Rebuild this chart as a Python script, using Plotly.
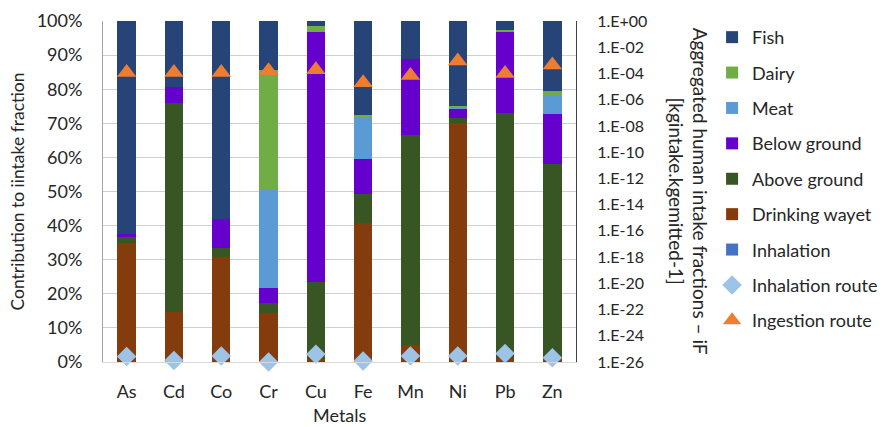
import plotly.graph_objects as go

metals = ["As", "Cd", "Co", "Cr", "Cu", "Fe", "Mn", "Ni", "Pb", "Zn"]

# contributions to intake fraction (%), stacked bottom -> top
inhalation = [0, 0, 0, 0, 0, 0, 0, 0, 0, 0]
drinking = [35.0, 14.7, 30.8, 14.3, 1.0, 40.9, 5.0, 70.0, 1.3, 1.0]
above_ground = [1.8, 61.2, 2.7, 3.1, 22.6, 8.3, 61.6, 1.5, 71.8, 57.2]
below_ground = [0.8, 4.7, 8.5, 4.4, 73.3, 10.2, 22.4, 2.9, 23.7, 14.4]
meat = [0, 0, 0, 28.6, 0, 12.1, 0, 0.3, 0, 5.5]
dairy = [0, 0, 0, 35.2, 1.5, 0.8, 0, 0.4, 0.6, 1.3]
fish = [62.4, 19.4, 58.0, 14.4, 1.6, 27.7, 11.0, 24.9, 2.6, 20.6]

# aggregated intake fractions (kg intake / kg emitted)
inhalation_route = [2.6e-26, 1.3e-26, 2.9e-26, 1.0e-26, 3.9e-26, 1.2e-26, 2.9e-26, 2.9e-26, 4.4e-26, 2.1e-26]
ingestion_route = [1.2e-4, 1.2e-4, 1.2e-4, 1.6e-4, 1.9e-4, 2.0e-5, 7.0e-5, 9.0e-4, 1.0e-4, 4.5e-4]

right_ticks = [10 ** (-k) for k in range(0, 27, 2)]
right_ticktext = ["1.E+00"] + ["1.E-%02d" % k for k in range(2, 27, 2)]
left_ticks = list(range(0, 101, 10))
left_ticktext = ["%d%%" % v for v in left_ticks]

FONT = "Lato, 'Open Sans', sans-serif"
TXT = "#262626"

fig = go.Figure()
bars = [
    ("Inhalation", inhalation, "#4472C4", 7),
    ("Drinking wayet", drinking, "#843C0C", 6),
    ("Above ground", above_ground, "#375623", 5),
    ("Below ground", below_ground, "#6600CC", 4),
    ("Meat", meat, "#5B9BD5", 3),
    ("Dairy", dairy, "#70AD47", 2),
    ("Fish", fish, "#264478", 1),
]
for name, vals, col, rank in bars:
    fig.add_trace(go.Bar(x=metals, y=vals, name=name, marker=dict(color=col, line=dict(width=0)),
                         legendrank=rank, legendgroup=name, yaxis="y"))

fig.add_trace(go.Scatter(x=metals, y=inhalation_route, name="Inhalation route", mode="markers",
                         marker=dict(symbol="diamond", size=15, color="#9DC3E6"),
                         yaxis="y2", legendrank=8, legendgroup="ir", cliponaxis=False))
fig.add_trace(go.Scatter(x=metals, y=ingestion_route, name="Ingestion route", mode="markers",
                         marker=dict(symbol="triangle-up", size=17, color="#ED7D31"),
                         yaxis="y2", legendrank=9, legendgroup="ig", cliponaxis=False))

fig.update_layout(
    width=894, height=427,
    margin=dict(l=103, r=317, t=21, b=65),
    paper_bgcolor="white", plot_bgcolor="white",
    barmode="stack", bargap=0.61,
    font=dict(family=FONT, size=18, color=TXT),
    xaxis=dict(type="category", range=[-0.5, 9.5], showline=True, linecolor="#d9d9d9", linewidth=1,
               ticks="", ticklabelstandoff=13, tickfont=dict(size=18, color=TXT),
               automargin=False),
    yaxis=dict(range=[0, 100], tickvals=left_ticks, ticktext=left_ticktext,
               showgrid=True, gridcolor="#d0d0d0", gridwidth=1,
               showline=True, linecolor="#a6a6a6", linewidth=1,
               ticks="", ticklabelstandoff=16, zeroline=False,
               tickfont=dict(size=18, color=TXT), automargin=False,
               title=dict(text="Contribution to iintake fraction", font=dict(size=17.5, color=TXT), standoff=7)),
    yaxis2=dict(type="log", range=[-26, 0], overlaying="y", side="right",
                tickvals=right_ticks, ticktext=right_ticktext,
                showgrid=False, showline=True, linecolor="#404040", linewidth=1,
                ticks="", ticklabelstandoff=17, zeroline=False, automargin=False,
                tickfont=dict(size=16, color=TXT)),
    legend=dict(x=1.285, y=1.006, xanchor="left", yanchor="top",
                traceorder="grouped", tracegroupgap=9, maxheight=420,
                font=dict(size=18, color=TXT), bgcolor="rgba(0,0,0,0)"),
    annotations=[
        dict(text="Aggregated human intake fractions – iF<br>[kgintake.kgemitted-1]",
             xref="paper", yref="paper", x=1.2384, y=0.5, xanchor="center", yanchor="middle",
             textangle=90, showarrow=False, align="center",
             font=dict(size=19, color=TXT, family=FONT)),
        dict(text="Metals", xref="paper", yref="paper", x=0.5, y=-0.155,
             xanchor="center", yanchor="middle", showarrow=False,
             font=dict(size=18, color=TXT, family=FONT)),
    ],
)

fig.write_html("out.html")
